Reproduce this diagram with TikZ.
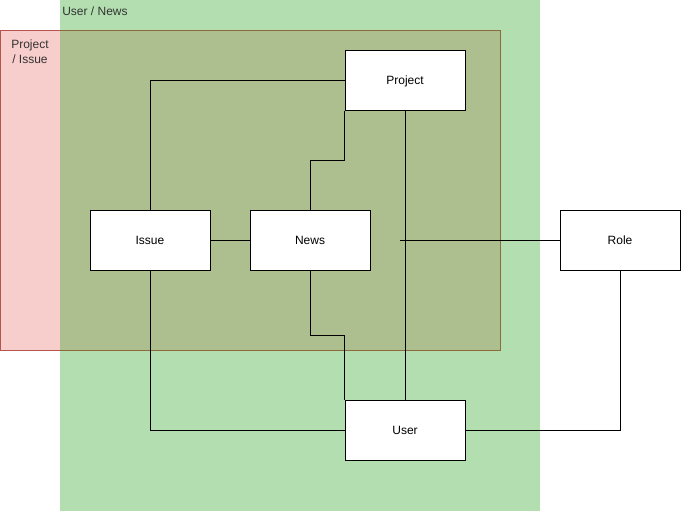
\documentclass[tikz,border=0pt]{standalone}
\usepackage{fontspec}
\setmainfont{Liberation Sans}
\usepackage{tikz}
\usetikzlibrary{positioning}

\definecolor{grpgreen}{HTML}{B3DFB0}
\definecolor{grppink}{HTML}{F8CECC}
\definecolor{grpolive}{HTML}{ADBE8F}
\definecolor{grpred}{HTML}{B85450}
\definecolor{grpbrown}{HTML}{8C6A3C}
\definecolor{grptext}{HTML}{333333}

\tikzset{
    entity/.style={draw=black, fill=white, line width=0.75pt, minimum width=90pt, minimum height=45pt, inner sep=0pt, text height=6.5pt, text depth=0pt, font=\fontsize{9}{11}\selectfont},
    link/.style={draw=black, line width=0.75pt},
    grplabel/.style={text=grptext, inner sep=0pt, font=\fontsize{9}{11}\selectfont}
}

\begin{document}
\begin{tikzpicture}[x=0.75pt, y=-0.75pt]
    \useasboundingbox (0,0) rectangle (681,511);

    % group areas
    \fill[grpgreen] (60,0) rectangle (540,511);
    \fill[grppink] (0,30) rectangle (60,350);
    \fill[grpolive] (60,30) rectangle (500,350);
    \begin{scope}
        \clip (0,0) rectangle (60,511);
        \draw[grpred, line width=0.75pt] (0,30) rectangle (500,350);
    \end{scope}
    \begin{scope}
        \clip (60,0) rectangle (681,511);
        \draw[grpbrown, line width=0.75pt] (0,30) rectangle (500,350);
    \end{scope}
    \node[grplabel, anchor=west] (usernews) at (62,11) {User / News};
    \node[grplabel, anchor=north, align=center] (projissue) at (30,39.5) {Project\\/ Issue};

    % entities
    \node[entity] (project) at (405,80) {Project};
    \node[entity] (issue) at (150,240) {Issue};
    \node[entity] (news) at (310,240) {News};
    \node[entity] (role) at (620,240) {Role};
    \node[entity] (user) at (405,430) {User};
    \coordinate (tap) at (400,240);

    % links
    \draw[link] (issue.north) |- (project.west);
    \draw[link] (project.south west) -- (project.south west |- 0,160) -| (news.north);
    \draw[link] (project) -- (user);
    \draw[link] (issue) -- (news);
    \draw[link] (role) -- (tap);
    \draw[link] (news.south) -- (news.south |- 0,335) -| (user.north west);
    \draw[link] (issue.south) |- (user.west);
    \draw[link] (user.east) -| (role.south);
\end{tikzpicture}
\end{document}
